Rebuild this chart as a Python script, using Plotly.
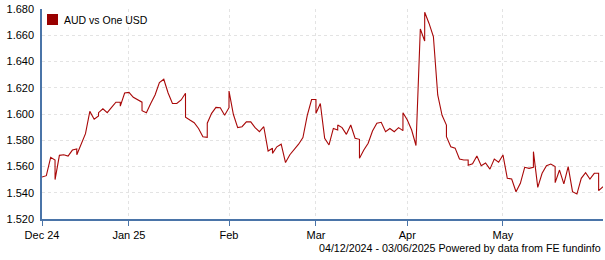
import pandas as pd
import plotly.graph_objects as go

series_name = "AUD vs One USD"
footer_text = "04/12/2024 - 03/06/2025 Powered by data from FE fundinfo"

start_date = "2024-12-04"
end_date = "2025-06-03"

# one value per weekday, 04/12/2024 .. 03/06/2025
weekday_rates = [
    1.552, 1.553, 1.567, 1.550, 1.5685, 1.569, 1.568, 1.5725, 1.569, 1.577,
    1.585, 1.602, 1.596, 1.601, 1.604, 1.601, 1.605, 1.609, 1.606, 1.616,
    1.6165, 1.6127, 1.6107, 1.6025, 1.601, 1.608, 1.6145, 1.624, 1.6265, 1.616,
    1.608, 1.608, 1.6107, 1.5975, 1.5954, 1.5934, 1.589, 1.5827, 1.593, 1.6005,
    1.605, 1.6048, 1.599, 1.6175, 1.5998, 1.5896, 1.5903, 1.594, 1.594, 1.5896,
    1.5865, 1.5903, 1.5718, 1.570, 1.575, 1.577, 1.563, 1.569, 1.5726, 1.577,
    1.582, 1.599, 1.611, 1.6005, 1.608, 1.5815, 1.5764, 1.589, 1.5916, 1.5896,
    1.5845, 1.5916, 1.5815, 1.5662, 1.5726, 1.5777, 1.587, 1.593, 1.5937, 1.5865,
    1.589, 1.5865, 1.5896, 1.601, 1.5954, 1.5878, 1.576, 1.6648, 1.6775, 1.669,
    1.659, 1.6145, 1.599, 1.5827, 1.575, 1.574, 1.5657, 1.565, 1.561, 1.562,
    1.568, 1.5606, 1.5627, 1.558, 1.5656, 1.5632, 1.5688, 1.551, 1.5505, 1.5408,
    1.5472, 1.5594, 1.5586, 1.5713, 1.5441, 1.5548, 1.5606, 1.5619, 1.5477, 1.5573,
    1.5467, 1.5599, 1.5408, 1.539, 1.551, 1.5553, 1.5505, 1.5548, 1.5416, 1.5446,
]

# late-Sunday quotes (plotted just before the Monday value)
sunday_dates = [
    "2024-12-08", "2024-12-15", "2024-12-22", "2024-12-29", "2025-01-05",
    "2025-01-19", "2025-01-26", "2025-02-02", "2025-02-16", "2025-03-02",
    "2025-03-09", "2025-03-16", "2025-03-30", "2025-04-06", "2025-04-13",
    "2025-04-20", "2025-05-11", "2025-05-18", "2025-06-01",
]
sunday_rates = [
    1.565, 1.5733, 1.5985, 1.609, 1.609,
    1.6158, 1.5822, 1.6048, 1.5739, 1.611,
    1.5878, 1.5807, 1.5873, 1.6556, 1.5916,
    1.565, 1.5594, 1.5599, 1.5548,
]

tick_dates = ["2024-12-04", "2025-01-01", "2025-02-03", "2025-03-03", "2025-04-01", "2025-05-01"]
tick_labels = ["Dec 24", "Jan 25", "Feb", "Mar", "Apr", "May"]
y_ticks = [1.52, 1.54, 1.56, 1.58, 1.60, 1.62, 1.64, 1.66, 1.68]

weekdays = pd.bdate_range(start_date, end_date)
df = pd.concat([
    pd.DataFrame({"date": weekdays, "rate": weekday_rates}),
    pd.DataFrame({"date": pd.to_datetime(sunday_dates) + pd.Timedelta(hours=23, minutes=48),
                  "rate": sunday_rates}),
]).sort_values("date")

saturdays = [d.strftime("%Y-%m-%d") for d in pd.date_range("2024-12-07", "2025-05-31", freq="7D")]

LINE = "#A80808"
AXIS = "#4A74A8"
FONT = "Arial, Liberation Sans, sans-serif"

fig = go.Figure()
fig.add_trace(go.Scatter(
    x=df["date"], y=df["rate"], mode="lines",
    line=dict(color=LINE, width=1.1), name=series_name, showlegend=False,
))

fig.update_layout(
    width=605, height=260,
    margin=dict(l=42, r=2, t=9, b=41),
    paper_bgcolor="white", plot_bgcolor="white",
    font=dict(family=FONT, size=11, color="#000000"),
    showlegend=False,
)
fig.update_xaxes(
    range=[start_date, end_date],
    rangebreaks=[dict(values=saturdays, dvalue=47.75 * 3600 * 1000)],
    tickmode="array", tickvals=tick_dates, ticktext=tick_labels,
    ticks="outside", ticklen=5, tickcolor=AXIS, tickwidth=1,
    showline=True, linecolor=AXIS, linewidth=1.5,
    showgrid=True, gridcolor="#E3E3E3", griddash="3px,3px", gridwidth=1,
    zeroline=False,
)
fig.update_yaxes(
    range=[1.52, 1.68],
    tickmode="array", tickvals=y_ticks, tickformat=".3f",
    ticks="", showline=True, linecolor=AXIS, linewidth=1.5,
    showgrid=True, gridcolor="#E3E3E3", griddash="3px,3px", gridwidth=1,
    zeroline=False, ticklabelstandoff=4,
)

# legend key
fig.add_shape(type="rect", xref="paper", yref="paper",
              x0=5 / 561, x1=16 / 561, y0=1 - 16 / 210, y1=1 - 5 / 210,
              fillcolor="#990000", line=dict(width=0))
fig.add_annotation(text=series_name, xref="paper", yref="paper",
                   x=20 / 561, y=1 - 10.5 / 210, xanchor="left", yanchor="middle",
                   showarrow=False, font=dict(size=10.5, color="#000000"))
fig.add_annotation(text=footer_text, xref="paper", yref="paper",
                   x=1, y=-29 / 210, xanchor="right", yanchor="middle",
                   showarrow=False, font=dict(size=10.7, color="#000000"))

fig.write_html("out.html")
